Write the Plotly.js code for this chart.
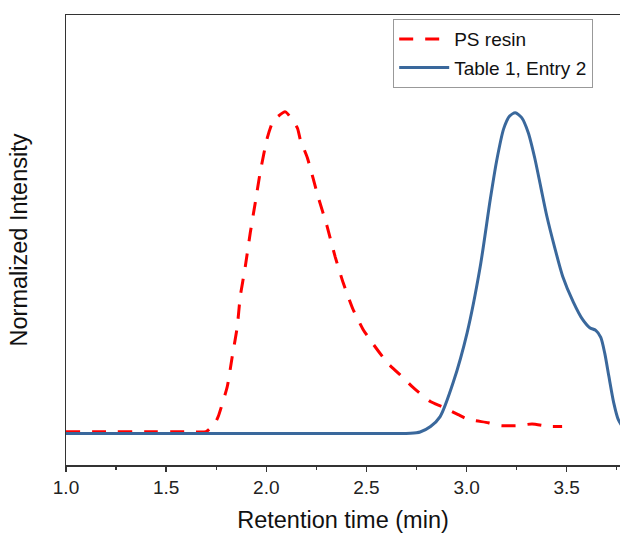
<!DOCTYPE html>
<html>
<head>
<meta charset="utf-8">
<script src="https://cdn.plot.ly/plotly-3.0.1.min.js"></script>
<style>html,body{margin:0;padding:0;background:#fff;}#chart{width:620px;height:537px;}</style>
</head>
<body>
<div id="chart"></div>
<script>
// PS resin (red dashed)
const psX = [1.00, 1.20, 1.40, 1.60, 1.70, 1.745, 1.760, 1.805, 1.830, 1.855, 1.870, 1.895, 1.920, 1.945, 1.970, 2.005, 2.035, 2.095, 2.155, 2.170, 2.205, 2.259, 2.304, 2.344, 2.384, 2.434, 2.484, 2.529, 2.604, 2.684, 2.734, 2.819, 2.878, 2.958, 3.008, 3.108, 3.168, 3.258, 3.327, 3.417, 3.477];
const psY = [0.006, 0.006, 0.006, 0.006, 0.006, 0.034, 0.053, 0.146, 0.240, 0.333, 0.427, 0.520, 0.626, 0.720, 0.816, 0.922, 0.975, 1.003, 0.953, 0.916, 0.860, 0.738, 0.645, 0.551, 0.470, 0.386, 0.324, 0.283, 0.221, 0.174, 0.143, 0.100, 0.084, 0.059, 0.044, 0.034, 0.025, 0.025, 0.030, 0.022, 0.022];
// Table 1, Entry 2 (blue solid)
const t1X = [1.00, 1.50, 2.00, 2.40, 2.55, 2.65, 2.72, 2.768, 2.82, 2.868, 2.933, 3.003, 3.068, 3.118, 3.150, 3.185, 3.215, 3.243, 3.275, 3.308, 3.340, 3.370, 3.400, 3.440, 3.480, 3.533, 3.580, 3.615, 3.645, 3.670, 3.690, 3.710, 3.735, 3.757, 3.800];
const t1Y = [0.000, 0.000, 0.000, 0.000, 0.000, 0.000, 0.001, 0.005, 0.022, 0.053, 0.159, 0.315, 0.520, 0.729, 0.850, 0.950, 0.990, 1.000, 0.985, 0.938, 0.860, 0.770, 0.680, 0.580, 0.490, 0.410, 0.355, 0.330, 0.322, 0.300, 0.250, 0.180, 0.095, 0.044, 0.000];
const seriesNames = ["PS resin", "Table 1, Entry 2"];
const xTickVals = [1.0, 1.5, 2.0, 2.5, 3.0, 3.5];
const xTickText = ["1.0", "1.5", "2.0", "2.5", "3.0", "3.5"];

const font = "Arial, 'Liberation Sans', sans-serif";
const traces = [
  {x: psX, y: psY, name: seriesNames[0], mode: "lines", legendgroup: "a",
   line: {color: "#FF0000", width: 3, dash: "14px,12px", shape: "spline", smoothing: 0.5}},
  {x: t1X, y: t1Y, name: seriesNames[1], mode: "lines", legendgroup: "b",
   line: {color: "#3A689C", width: 3, shape: "spline", smoothing: 0.7}}
];
const layout = {
  width: 620, height: 537,
  margin: {l: 65.6, r: 0, t: 15, b: 71.5},
  paper_bgcolor: "#fff", plot_bgcolor: "#fff",
  font: {family: font, color: "#222"},
  showlegend: true,
  legend: {x: 0.5906, y: 0.991, xanchor: "left", yanchor: "top",
    bordercolor: "#999", borderwidth: 1, bgcolor: "#fff",
    font: {size: 19, family: font, color: "#111"},
    traceorder: "grouped", tracegroupgap: 1, itemwidth: 50},
  xaxis: {range: [1, 3.766], tickvals: xTickVals, ticktext: xTickText,
    ticks: "outside", ticklen: 5, tickwidth: 1.3, tickcolor: "#333",
    minor: {dtick: 0.25, tick0: 1, ticks: "outside", ticklen: 3, tickwidth: 1.3, tickcolor: "#333"},
    showline: true, linecolor: "#333", linewidth: 1.5, mirror: true,
    showgrid: false, zeroline: false,
    tickfont: {size: 19, family: font, color: "#222"},
    title: {text: "Retention time (min)", font: {size: 23.5, family: font, color: "#111"}, standoff: 14}},
  yaxis: {range: [-0.098, 1.305], showticklabels: false, ticks: "",
    showline: true, linecolor: "#333", linewidth: 1.5, mirror: false,
    showgrid: false, zeroline: false,
    title: {text: "Normalized Intensity", font: {size: 23.5, family: font, color: "#111"}, standoff: 30}}
};
Plotly.newPlot("chart", traces, layout, {displayModeBar: false, staticPlot: true});
</script>
</body>
</html>
